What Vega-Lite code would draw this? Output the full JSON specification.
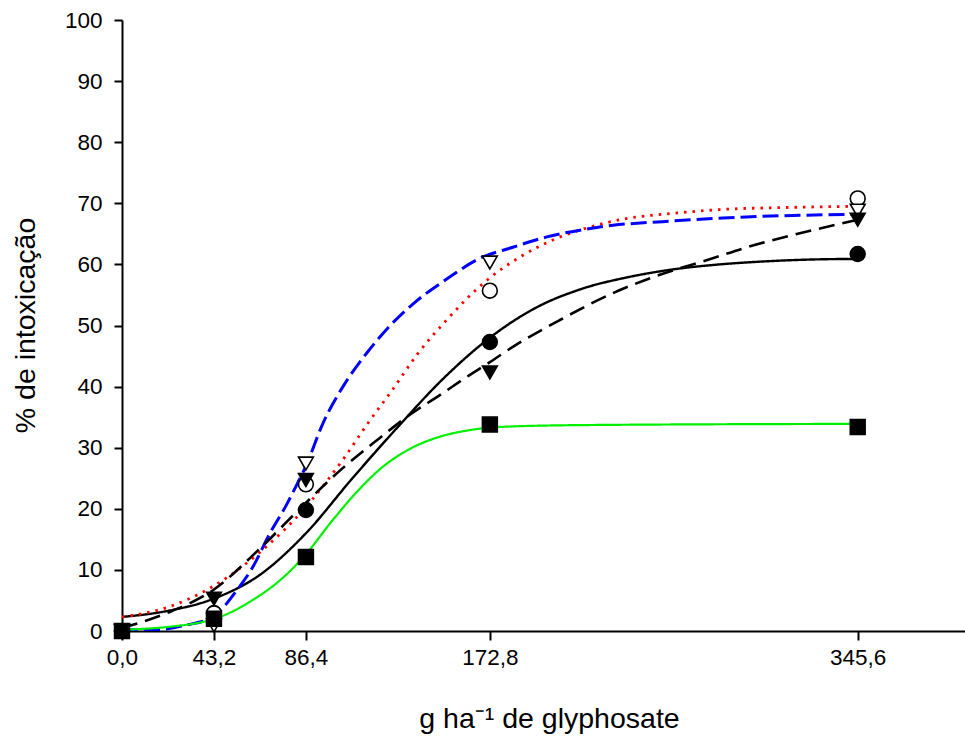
{
  "$schema": "https://vega.github.io/schema/vega-lite/v6.json",
  "width": 843,
  "height": 611,
  "autosize": "none",
  "padding": {"left": 122, "top": 20, "right": 0, "bottom": 105},
  "background": "white",
  "config": {
    "view": {"stroke": null},
    "font": "Liberation Sans",
    "axis": {
      "grid": false,
      "domainColor": "black",
      "domainWidth": 2,
      "tickColor": "black",
      "tickWidth": 2,
      "labelColor": "black",
      "labelFont": "Liberation Sans",
      "labelFontSize": 22.5,
      "labelFlush": false,
      "titleFont": "Liberation Sans",
      "titleFontSize": 28.5,
      "titleFontWeight": "normal",
      "titleColor": "black"
    }
  },
  "datasets": {
    "curves": [
      {"series": "A", "dose": 0, "pct": 2.3},
      {"series": "A", "dose": 21.6, "pct": 3.3},
      {"series": "A", "dose": 43.2, "pct": 5.3},
      {"series": "A", "dose": 64.8, "pct": 9.2},
      {"series": "A", "dose": 86.4, "pct": 16.0},
      {"series": "A", "dose": 108, "pct": 24.9},
      {"series": "A", "dose": 129.6, "pct": 33.4},
      {"series": "A", "dose": 151.2, "pct": 41.4},
      {"series": "A", "dose": 172.8, "pct": 48.0},
      {"series": "A", "dose": 194.4, "pct": 52.9},
      {"series": "A", "dose": 216, "pct": 56.0},
      {"series": "A", "dose": 237.6, "pct": 57.9},
      {"series": "A", "dose": 259.2, "pct": 59.2},
      {"series": "A", "dose": 280.8, "pct": 60.0},
      {"series": "A", "dose": 302.4, "pct": 60.5},
      {"series": "A", "dose": 324, "pct": 60.8},
      {"series": "A", "dose": 345.6, "pct": 60.9},

      {"series": "B", "dose": 0, "pct": 2.3},
      {"series": "B", "dose": 21.6, "pct": 3.9},
      {"series": "B", "dose": 43.2, "pct": 7.4},
      {"series": "B", "dose": 64.8, "pct": 12.9},
      {"series": "B", "dose": 86.4, "pct": 20.3},
      {"series": "B", "dose": 104.7, "pct": 28.5},
      {"series": "B", "dose": 115.5, "pct": 34.0},
      {"series": "B", "dose": 127.3, "pct": 39.6},
      {"series": "B", "dose": 138.5, "pct": 45.2},
      {"series": "B", "dose": 151.7, "pct": 50.6},
      {"series": "B", "dose": 171.4, "pct": 57.4},
      {"series": "B", "dose": 186.9, "pct": 61.2},
      {"series": "B", "dose": 202.4, "pct": 64.0},
      {"series": "B", "dose": 218.8, "pct": 66.0},
      {"series": "B", "dose": 238.5, "pct": 67.6},
      {"series": "B", "dose": 254, "pct": 68.2},
      {"series": "B", "dose": 282.2, "pct": 69.0},
      {"series": "B", "dose": 310, "pct": 69.3},
      {"series": "B", "dose": 345.6, "pct": 69.5},

      {"series": "C", "dose": 0, "pct": 0.2},
      {"series": "C", "dose": 14.6, "pct": 0.2},
      {"series": "C", "dose": 30.5, "pct": 1.0},
      {"series": "C", "dose": 42.7, "pct": 2.3},
      {"series": "C", "dose": 54, "pct": 6.7},
      {"series": "C", "dose": 61.5, "pct": 10.5},
      {"series": "C", "dose": 69.5, "pct": 16.0},
      {"series": "C", "dose": 77.5, "pct": 20.8},
      {"series": "C", "dose": 82.2, "pct": 24.0},
      {"series": "C", "dose": 86.4, "pct": 27.0},
      {"series": "C", "dose": 94.4, "pct": 34.0},
      {"series": "C", "dose": 103.8, "pct": 40.0},
      {"series": "C", "dose": 115, "pct": 45.5},
      {"series": "C", "dose": 124.9, "pct": 49.6},
      {"series": "C", "dose": 137.6, "pct": 53.8},
      {"series": "C", "dose": 151.7, "pct": 57.4},
      {"series": "C", "dose": 168.1, "pct": 61.0},
      {"series": "C", "dose": 183.6, "pct": 62.8},
      {"series": "C", "dose": 199.6, "pct": 64.5},
      {"series": "C", "dose": 215.1, "pct": 65.6},
      {"series": "C", "dose": 230.6, "pct": 66.4},
      {"series": "C", "dose": 254, "pct": 67.0},
      {"series": "C", "dose": 282.2, "pct": 67.6},
      {"series": "C", "dose": 345.6, "pct": 68.2},

      {"series": "D", "dose": 0, "pct": 0.5},
      {"series": "D", "dose": 21.6, "pct": 3.0},
      {"series": "D", "dose": 43.2, "pct": 6.8},
      {"series": "D", "dose": 64.8, "pct": 13.5},
      {"series": "D", "dose": 86.4, "pct": 21.0},
      {"series": "D", "dose": 103.8, "pct": 26.7},
      {"series": "D", "dose": 121.1, "pct": 31.6},
      {"series": "D", "dose": 135.2, "pct": 35.4},
      {"series": "D", "dose": 149.3, "pct": 38.6},
      {"series": "D", "dose": 162, "pct": 41.6},
      {"series": "D", "dose": 172.8, "pct": 44.0},
      {"series": "D", "dose": 183.6, "pct": 46.5},
      {"series": "D", "dose": 205.7, "pct": 50.9},
      {"series": "D", "dose": 230.6, "pct": 55.3},
      {"series": "D", "dose": 249.3, "pct": 57.9},
      {"series": "D", "dose": 277.5, "pct": 61.0},
      {"series": "D", "dose": 293.5, "pct": 62.8},
      {"series": "D", "dose": 324.5, "pct": 65.6},
      {"series": "D", "dose": 345.6, "pct": 67.3},

      {"series": "E", "dose": 0, "pct": 0.2},
      {"series": "E", "dose": 22.5, "pct": 0.7},
      {"series": "E", "dose": 38, "pct": 1.5},
      {"series": "E", "dose": 46, "pct": 2.3},
      {"series": "E", "dose": 61.5, "pct": 5.1},
      {"series": "E", "dose": 74.2, "pct": 8.3},
      {"series": "E", "dose": 85, "pct": 12.0},
      {"series": "E", "dose": 99.1, "pct": 18.2},
      {"series": "E", "dose": 110.4, "pct": 22.8},
      {"series": "E", "dose": 122.6, "pct": 26.9},
      {"series": "E", "dose": 135.2, "pct": 29.8},
      {"series": "E", "dose": 149.3, "pct": 31.8},
      {"series": "E", "dose": 162, "pct": 32.8},
      {"series": "E", "dose": 177.5, "pct": 33.4},
      {"series": "E", "dose": 216, "pct": 33.7},
      {"series": "E", "dose": 345.6, "pct": 33.9}
    ],
    "points": [
      {"series": "A", "dose": 0, "pct": 0},
      {"series": "A", "dose": 43.2, "pct": 2.9},
      {"series": "A", "dose": 86.4, "pct": 19.8},
      {"series": "A", "dose": 172.8, "pct": 47.3},
      {"series": "A", "dose": 345.6, "pct": 61.7},
      {"series": "B", "dose": 0, "pct": 0},
      {"series": "B", "dose": 43.2, "pct": 2.9},
      {"series": "B", "dose": 86.4, "pct": 24.0},
      {"series": "B", "dose": 172.8, "pct": 55.7},
      {"series": "B", "dose": 345.6, "pct": 70.8},
      {"series": "C", "dose": 0, "pct": 0},
      {"series": "C", "dose": 43.2, "pct": 0.9},
      {"series": "C", "dose": 86.4, "pct": 27.4},
      {"series": "C", "dose": 172.8, "pct": 60.3},
      {"series": "C", "dose": 345.6, "pct": 68.8},
      {"series": "D", "dose": 0, "pct": 0},
      {"series": "D", "dose": 43.2, "pct": 5.3},
      {"series": "D", "dose": 86.4, "pct": 24.7},
      {"series": "D", "dose": 172.8, "pct": 42.3},
      {"series": "D", "dose": 345.6, "pct": 67.3},
      {"series": "E", "dose": 0, "pct": 0},
      {"series": "E", "dose": 43.2, "pct": 2.0},
      {"series": "E", "dose": 86.4, "pct": 12.1},
      {"series": "E", "dose": 172.8, "pct": 33.8},
      {"series": "E", "dose": 345.6, "pct": 33.4}
    ]
  },
  "layer": [
    {
      "data": {"name": "curves"},
      "mark": {"type": "line", "interpolate": "monotone", "clip": true},
      "encoding": {
        "x": {
          "field": "dose",
          "type": "quantitative",
          "scale": {"domain": [0, 396], "nice": false, "zero": false},
          "axis": {
            "values": [0, 43.2, 86.4, 172.8, 345.6],
            "labelExpr": "replace(format(datum.value, '.1f'), '.', ',')",
            "tickSize": 9,
            "labelPadding": 6,
            "title": "g ha⁻¹ de glyphosate",
            "titleX": 427,
            "titleY": 87,
            "titleBaseline": "middle",
            "titleAnchor": "start",
            "titleAlign": "center"
          }
        },
        "y": {
          "field": "pct",
          "type": "quantitative",
          "scale": {"domain": [0, 100], "nice": false},
          "axis": {
            "values": [0, 10, 20, 30, 40, 50, 60, 70, 80, 90, 100],
            "format": "d",
            "tickSize": 8,
            "labelPadding": 12,
            "title": "% de intoxicação",
            "titleX": -97,
            "titleY": 305,
            "titleAngle": -90,
            "titleAlign": "center",
            "titleBaseline": "middle",
            "titleAnchor": "start"
          }
        },
        "detail": {"field": "series"},
        "color": {
          "field": "series",
          "type": "nominal",
          "scale": {"domain": ["E", "A", "D", "B", "C"], "range": ["#00f000", "black", "black", "red", "#0000ff"]},
          "legend": null
        },
        "strokeDash": {
          "field": "series",
          "type": "nominal",
          "scale": {"domain": ["E", "A", "D", "B", "C"], "range": [[1, 0], [1, 0], [16, 8], [2.5, 6], [16, 6]]},
          "legend": null
        },
        "strokeWidth": {
          "field": "series",
          "type": "nominal",
          "scale": {"domain": ["E", "A", "D", "B", "C"], "range": [2.2, 3, 3.6, 3, 3]},
          "legend": null
        },
        "order": {"field": "dose"}
      }
    },
    {
      "data": {"name": "points"},
      "mark": {"type": "point", "filled": true, "stroke": "black", "strokeWidth": 1.6, "opacity": 1, "size": 220},
      "encoding": {
        "x": {"field": "dose", "type": "quantitative"},
        "y": {"field": "pct", "type": "quantitative"},
        "shape": {
          "field": "series",
          "type": "nominal",
          "scale": {"domain": ["A", "B", "C", "D", "E"], "range": ["circle", "circle", "triangle-down", "triangle-down", "square"]},
          "legend": null
        },
        "fill": {
          "field": "series",
          "type": "nominal",
          "scale": {"domain": ["A", "B", "C", "D", "E"], "range": ["black", "white", "white", "black", "black"]},
          "legend": null
        }
      }
    }
  ]
}
